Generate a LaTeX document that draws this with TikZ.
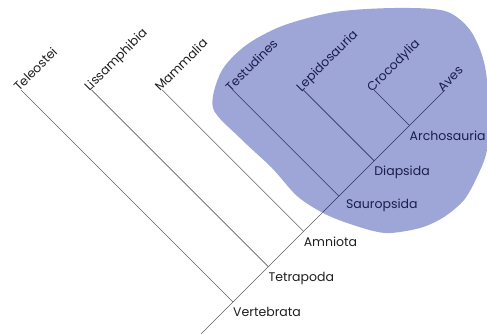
\documentclass[tikz,border=0pt]{standalone}
\usepackage{fontspec}
\setmainfont{Poppins}
\usetikzlibrary{positioning,calc}
\definecolor{blue1}{RGB}{158,165,215}
\definecolor{navy1}{RGB}{45,50,105}
\definecolor{navy2}{RGB}{25,30,75}
\definecolor{gray1}{RGB}{95,95,95}
\definecolor{ink1}{RGB}{30,30,30}
\tikzset{
    branch/.style={draw=gray1, line width=0.6pt},
    inbranch/.style={draw=navy1, line width=0.6pt},
    taxon/.style={rotate=45, anchor=base west, inner sep=0pt, xshift=-3pt, font=\fontsize{12.5}{14}\selectfont},
    clade/.style={anchor=north west, inner sep=0pt, yshift=-5pt, font=\fontsize{12.5}{14}\selectfont}
}

\begin{document}
\begin{tikzpicture}[x=1pt, y=1pt]
    \useasboundingbox (0,0) rectangle (487,334);
    % shaded group
    \fill[blue1] plot[smooth cycle] coordinates {(213,226) (221,262) (245,288) (282,308) (335,322) (395,326) (445,323) (470,304) (484,272) (489,229) (487,184) (477,157) (464,134) (444,117) (420,106) (385,101) (350,110) (323,121) (297,138) (272,166) (240,196)};

    % spine
    \coordinate (root) at (201,0);
    \coordinate (vertebrata) at (233,32);
    \coordinate[above right=35.3pt and 35.3pt of vertebrata] (tetrapoda);
    \coordinate[above right=35.3pt and 35.3pt of tetrapoda] (amniota);
    \coordinate[above right=35.3pt and 35.3pt of amniota] (sauropsida);
    \coordinate[above right=35.3pt and 35.3pt of sauropsida] (diapsida);
    \coordinate[above right=35.3pt and 35.3pt of diapsida] (archosauria);
    \coordinate[above right=35.3pt and 35.3pt of archosauria] (aves);
    \coordinate (rim) at ($(amniota)!0.55!(sauropsida)$);

    % tips
    \coordinate[above left=212pt and 212pt of vertebrata] (teleostei);
    \coordinate[above left=176.7pt and 176.7pt of tetrapoda] (lissamphibia);
    \coordinate[above left=141.4pt and 141.4pt of amniota] (mammalia);
    \coordinate[above left=106pt and 106pt of sauropsida] (testudines);
    \coordinate[above left=70.7pt and 70.7pt of diapsida] (lepidosauria);
    \coordinate[above left=35.3pt and 35.3pt of archosauria] (crocodylia);

    \draw[branch] (root) -- (vertebrata) -- (tetrapoda) -- (amniota) -- (rim);
    \draw[inbranch] (rim) -- (sauropsida) -- (diapsida) -- (archosauria) -- (aves);
    \draw[branch] (vertebrata) -- (teleostei);
    \draw[branch] (tetrapoda) -- (lissamphibia);
    \draw[branch] (amniota) -- (mammalia);
    \draw[inbranch] (sauropsida) -- (testudines);
    \draw[inbranch] (diapsida) -- (lepidosauria);
    \draw[inbranch] (archosauria) -- (crocodylia);

    \node[taxon, text=ink1] (teleostei-l) at (teleostei) {Teleostei};
    \node[taxon, text=ink1] (lissamphibia-l) at (lissamphibia) {Lissamphibia};
    \node[taxon, text=ink1] (mammalia-l) at (mammalia) {Mammalia};
    \node[taxon, text=navy2] (testudines-l) at (testudines) {Testudines};
    \node[taxon, text=navy2] (lepidosauria-l) at (lepidosauria) {Lepidosauria};
    \node[taxon, text=navy2] (crocodylia-l) at (crocodylia) {Crocodylia};
    \node[taxon, text=navy2] (aves-l) at (aves) {Aves};

    \node[clade, text=ink1] (vertebrata-l) at (vertebrata) {Vertebrata};
    \node[clade, text=ink1] (tetrapoda-l) at (tetrapoda) {Tetrapoda};
    \node[clade, text=ink1] (amniota-l) at (amniota) {Amniota};
    \node[clade, text=navy2, xshift=7pt, yshift=2pt] (sauropsida-l) at (sauropsida) {Sauropsida};
    \node[clade, text=navy2] (diapsida-l) at (diapsida) {Diapsida};
    \node[clade, text=navy2] (archosauria-l) at (archosauria) {Archosauria};
\end{tikzpicture}
\end{document}
